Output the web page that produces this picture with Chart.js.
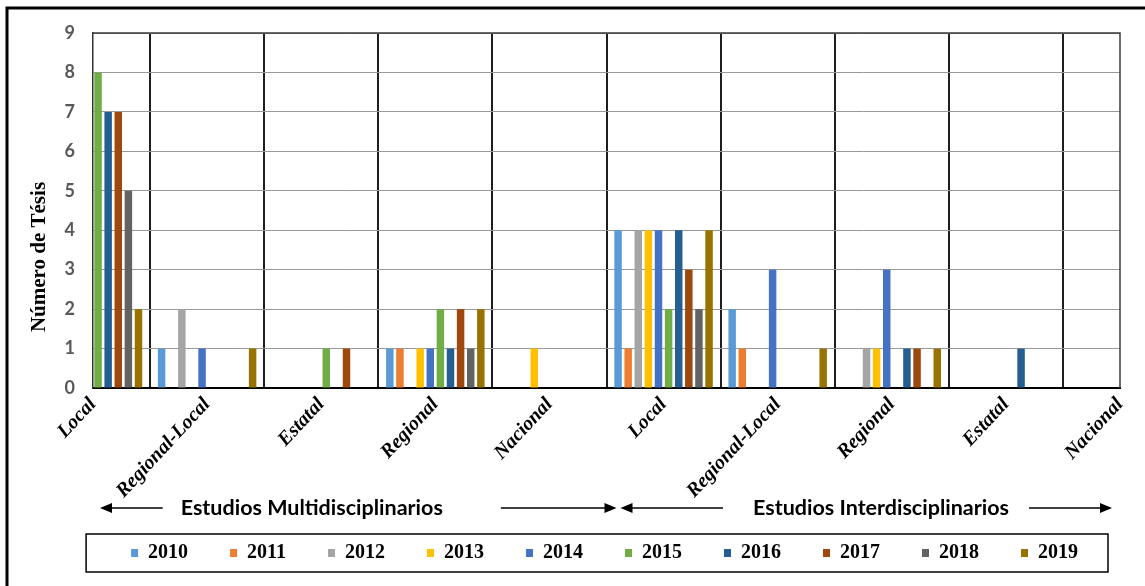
<!DOCTYPE html>
<html>
<head>
<meta charset="utf-8">
<script src="https://cdn.jsdelivr.net/npm/chart.js@4.4.1/dist/chart.umd.min.js"></script>
<style>
  html, body { margin: 0; padding: 0; background: #fff; }
  #wrap { width: 1145px; height: 586px; position: relative; }
</style>
</head>
<body>
<div id="wrap"><canvas id="chart"></canvas></div>
<script>
const categories = ["Local", "Regional-Local", "Estatal", "Regional", "Nacional",
                    "Local", "Regional-Local", "Regional", "Estatal", "Nacional"];
const groups = ["Estudios Multidisciplinarios", "Estudios Interdisciplinarios"];
const yTitle = "Número de Tésis";
const years = ["2010", "2011", "2012", "2013", "2014", "2015", "2016", "2017", "2018", "2019"];
const colors = ["#5B9BD5", "#ED7D31", "#A5A5A5", "#FFC000", "#4472C4",
                "#70AD47", "#255E91", "#9E480E", "#636363", "#997300"];

// número de tesis por año, en el orden de categories
const v2010 = [0, 1, 0, 1, 0, 4, 2, 0, 0, 0];
const v2011 = [0, 0, 0, 1, 0, 1, 1, 0, 0, 0];
const v2012 = [0, 2, 0, 0, 0, 4, 0, 1, 0, 0];
const v2013 = [0, 0, 0, 1, 1, 4, 0, 1, 0, 0];
const v2014 = [0, 1, 0, 1, 0, 4, 3, 3, 0, 0];
const v2015 = [8, 0, 1, 2, 0, 2, 0, 0, 0, 0];
const v2016 = [7, 0, 0, 1, 0, 4, 0, 1, 1, 0];
const v2017 = [7, 0, 1, 2, 0, 3, 0, 1, 0, 0];
const v2018 = [5, 0, 0, 1, 0, 2, 0, 0, 0, 0];
const v2019 = [2, 1, 0, 2, 0, 4, 1, 1, 0, 0];
const values = [v2010, v2011, v2012, v2013, v2014, v2015, v2016, v2017, v2018, v2019];

const yTicks = [0, 1, 2, 3, 4, 5, 6, 7, 8, 9];

function arrow(ctx, from, to, y) {
    const dir = to > from ? 1 : -1;
    ctx.beginPath();
    ctx.moveTo(from, y);
    ctx.lineTo(to - dir * 10, y);
    ctx.stroke();
    ctx.beginPath();
    ctx.moveTo(to, y);
    ctx.lineTo(to - dir * 12, y - 5);
    ctx.lineTo(to - dir * 12, y + 5);
    ctx.closePath();
    ctx.fill();
}

const extras = {
    id: "extras",
    afterDraw(chart) {
        const ctx = chart.ctx;
        const a = chart.chartArea;
        const x = chart.scales.x;
        ctx.save();

        // borde superior y derecho del área
        ctx.strokeStyle = "#3a3a3a";
        ctx.lineWidth = 1.5;
        ctx.beginPath();
        ctx.moveTo(a.left, a.top);
        ctx.lineTo(a.right, a.top);
        ctx.lineTo(a.right, a.bottom);
        ctx.stroke();

        // marco exterior
        ctx.strokeStyle = "#000";
        ctx.lineWidth = 3;
        ctx.strokeRect(7, 8, chart.width + 20, chart.height + 20);

        // título del eje y
        ctx.save();
        ctx.translate(40, 257);
        ctx.rotate(-Math.PI / 2);
        ctx.font = "bold 21px 'Liberation Serif'";
        ctx.fillStyle = "#000";
        ctx.textAlign = "center";
        ctx.textBaseline = "middle";
        ctx.fillText(yTitle, 0, 0);
        ctx.restore();

        // flechas y nombres de grupo
        const mid = (x.getPixelForValue(4) + x.getPixelForValue(5)) / 2 + 12;
        const spans = [[a.left + 7, mid - 2, 0.41, 18, 58], [mid + 2, a.right - 8, 0.53, 30, 20]];
        const y = x.bottom + 7;
        ctx.font = "bold 21.5px Lato";
        ctx.fillStyle = "#000";
        ctx.textBaseline = "middle";
        ctx.textAlign = "center";
        ctx.lineWidth = 1.5;
        groups.forEach((g, i) => {
            const [s, e, f, gl, gr] = spans[i];
            const c = s + (e - s) * f;
            const w = ctx.measureText(g).width;
            ctx.fillText(g, c, y);
            arrow(ctx, c - w / 2 - gl, s, y);
            arrow(ctx, c + w / 2 + gr, e, y);
        });

        // caja de la leyenda
        const hb = chart.legend.legendHitBoxes;
        if (hb && hb.length) {
            const last = hb[hb.length - 1];
            ctx.lineWidth = 1.5;
            const l = hb[0].left - 45;
            ctx.strokeRect(l, hb[0].top - 9, last.left + last.width + 30 - l, hb[0].height + 18);
        }
        ctx.restore();
    }
};

new Chart(document.getElementById("chart"), {
    type: "bar",
    data: {
        labels: categories,
        datasets: years.map((yr, i) => ({
            label: yr,
            data: values[i],
            backgroundColor: colors[i],
            borderWidth: 0,
            clip: 0,
            categoryPercentage: 0.886,
            barPercentage: 0.74
        }))
    },
    options: {
        responsive: true,
        maintainAspectRatio: false,
        animation: false,
        layout: { padding: { top: 33, right: 25, bottom: 13, left: 18 } },
        plugins: {
            tooltip: { enabled: false },
            legend: {
                position: "bottom",
                align: "end",
                labels: {
                    boxWidth: 7,
                    boxHeight: 8,
                    padding: 42,
                    color: "#000",
                    font: { family: "Liberation Serif", size: 20, weight: "bold" }
                }
            }
        },
        scales: {
            x: {
                offset: false,
                grid: { offset: true, color: "#1e1e1e", lineWidth: 2, drawTicks: false },
                border: { color: "#000", width: 2 },
                ticks: {
                    autoSkip: false,
                    minRotation: 47,
                    maxRotation: 47,
                    padding: 5,
                    color: "#000",
                    font: { family: "Liberation Serif", size: 20, weight: "bold", style: "italic" }
                },
                afterFit(scale) { scale.height = 113; }
            },
            y: {
                min: 0,
                max: 9,
                afterBuildTicks(scale) { scale.ticks = yTicks.map(v => ({ value: v })); },
                grid: { color: "#999", lineWidth: 1, drawTicks: false },
                border: { color: "#333", width: 1.5 },
                ticks: {
                    padding: 18,
                    color: "#595959",
                    font: { family: "Lato", size: 18, weight: "bold" }
                },
                afterFit(scale) { scale.width = 75; }
            }
        }
    },
    plugins: [extras]
});
</script>
</body>
</html>
